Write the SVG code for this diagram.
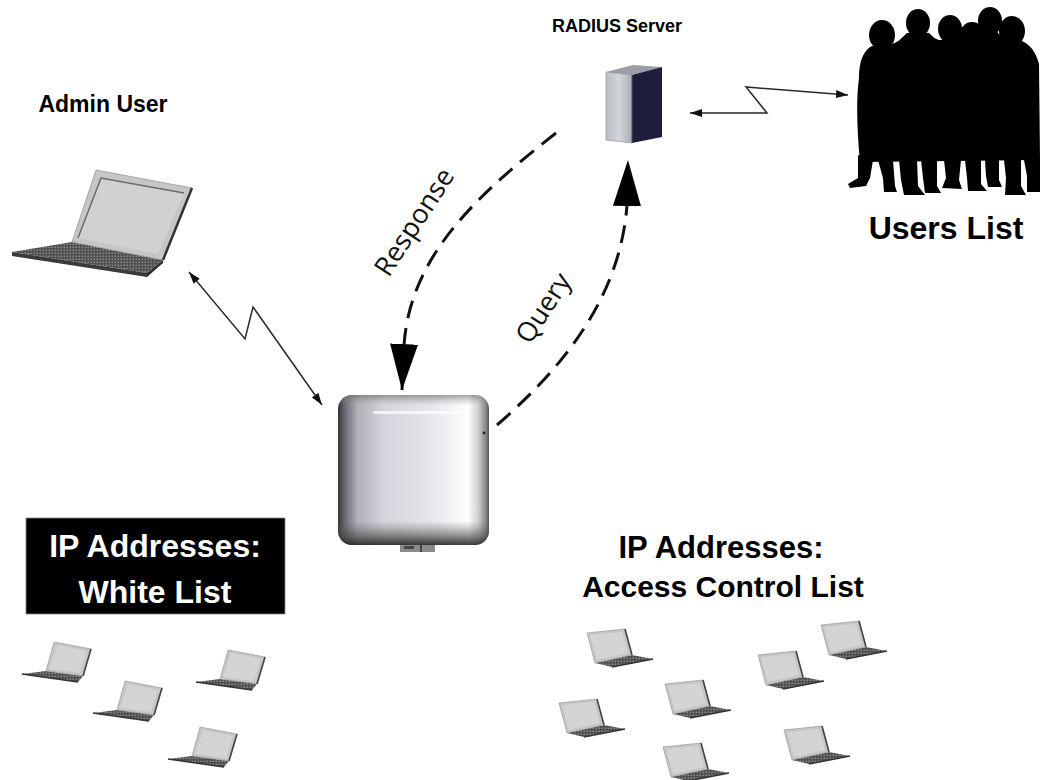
<svg xmlns="http://www.w3.org/2000/svg" width="1041" height="780" viewBox="0 0 1041 780">
  <style>
    .lbl { font-family: "Liberation Sans", Arial, sans-serif; font-weight: bold; fill: #000; }
    .flow { font-family: "Open Sans", "Liberation Sans", sans-serif; font-size: 27px; fill: #111; }
    .thin { fill: none; stroke: #2a2a2a; stroke-width: 1.5; }
    .dash { fill: none; stroke: #111; stroke-width: 3; stroke-dasharray: 18 10; }
    .scr { fill: #c6c6c6; stroke: #8c8c8c; stroke-width: 0.6; }
    .scrIn { fill: #d4d4d4; }
    .edge { stroke: #444; stroke-width: 1.6; fill: none; }
  </style>
  <defs>
    <pattern id="keys" width="3" height="3" patternUnits="userSpaceOnUse">
      <rect width="3" height="3" fill="#4c4c4c"/>
      <rect x="0.5" y="0.5" width="1.6" height="1.6" fill="#8a8a8a"/>
    </pattern>
    <marker id="tip" viewBox="0 0 12 8" refX="12" refY="4" markerWidth="12" markerHeight="9" markerUnits="userSpaceOnUse" orient="auto-start-reverse">
      <path d="M0,0 L12,4 L0,8 z" fill="#111"/>
    </marker>
    <marker id="bigTip" viewBox="0 0 46 28" refX="46" refY="14" markerWidth="46" markerHeight="28" markerUnits="userSpaceOnUse" orient="auto">
      <path d="M0,0 L46,14 L0,28 z" fill="#000"/>
    </marker>
    <linearGradient id="apH" x1="0" y1="0" x2="1" y2="0">
      <stop offset="0" stop-color="#34343a"/>
      <stop offset="0.05" stop-color="#6e6e76"/>
      <stop offset="0.13" stop-color="#b0b0b8"/>
      <stop offset="0.3" stop-color="#d4d4dc"/>
      <stop offset="0.6" stop-color="#e4e4ea"/>
      <stop offset="0.78" stop-color="#f6f6f9"/>
      <stop offset="0.86" stop-color="#ffffff"/>
      <stop offset="0.93" stop-color="#cfcfd3"/>
      <stop offset="0.98" stop-color="#85858a"/>
      <stop offset="1" stop-color="#505055"/>
    </linearGradient>
    <linearGradient id="apV" x1="0" y1="0" x2="0" y2="1">
      <stop offset="0" stop-color="#666" stop-opacity="0.6"/>
      <stop offset="0.07" stop-color="#999" stop-opacity="0"/>
      <stop offset="0.84" stop-color="#666" stop-opacity="0"/>
      <stop offset="0.94" stop-color="#444" stop-opacity="0.6"/>
      <stop offset="1" stop-color="#222" stop-opacity="0.9"/>
    </linearGradient>
    <linearGradient id="srvFront" x1="0" y1="0" x2="1" y2="0">
      <stop offset="0" stop-color="#b9bec4"/>
      <stop offset="0.5" stop-color="#d2d6da"/>
      <stop offset="1" stop-color="#a9aeb4"/>
    </linearGradient>
    <!-- small laptop, screen on the right of the keyboard -->
    <symbol id="lapL" overflow="visible">
      <polygon points="-8,29 29,34 24,40 -32,32" fill="url(#keys)"/>
      <line x1="-32" y1="32" x2="24" y2="40" stroke="#333" stroke-width="1.5"/>
      <polygon class="scr" points="0,0 37,7 29,34 -8,29"/>
      <polygon class="scrIn" points="3,3 33,9 26,31 -5,27"/>
      <line class="edge" x1="37" y1="7" x2="29" y2="34"/>
    </symbol>
    <!-- small laptop, screen on the left of the keyboard -->
    <symbol id="lapR" overflow="visible">
      <polygon points="8,30 45,22 66,26 25,34" fill="url(#keys)"/>
      <line x1="25" y1="34" x2="66" y2="26" stroke="#333" stroke-width="1.5"/>
      <polygon class="scr" points="0,0 38,-4 45,22 8,30"/>
      <polygon class="scrIn" points="3,2 35,-1 41,20 10,27"/>
      <line class="edge" x1="38" y1="-4" x2="45" y2="22"/>
    </symbol>
  </defs>

  <rect width="1041" height="780" fill="#fff"/>

  <!-- connectors -->
  <g id="connectors">
    <polyline class="thin" points="189,272 245,339 253,307 322,405" marker-start="url(#tip)" marker-end="url(#tip)"/>
    <polyline class="thin" points="690,113 767,113 746,87 848,95" marker-start="url(#tip)" marker-end="url(#tip)"/>
    <path id="response" class="dash" d="M556,133 C470,200 410,260 404,345 L402,390" marker-end="url(#bigTip)"/>
    <path id="query" class="dash" d="M497,425 C560,370 620,300 627,205 L628,160" marker-end="url(#bigTip)"/>
    <text class="flow" text-anchor="middle" transform="translate(422,227) rotate(-57)">Response</text>
    <text class="flow" text-anchor="middle" transform="translate(551,313) rotate(-57)">Query</text>
  </g>

  <!-- RADIUS server -->
  <g id="radius-server">
    <polygon points="606,72 633,65 662,67 632,75" fill="#9a9ea6"/>
    <polygon points="606,72 632,75 632,143 606,140" fill="url(#srvFront)" stroke="#8a8f96" stroke-width="0.6"/>
    <polygon points="632,75 662,67 662,137 632,143" fill="#1d1d3c"/>
    <line x1="632" y1="75" x2="632" y2="143" stroke="#55565e" stroke-width="1"/>
    <text class="lbl" x="617" y="32" font-size="18" text-anchor="middle">RADIUS Server</text>
  </g>

  <!-- users silhouette -->
  <g id="users-list" fill="#000">
    <ellipse cx="882" cy="35" rx="13" ry="15"/>
    <ellipse cx="918" cy="23" rx="12" ry="14"/>
    <ellipse cx="950" cy="29" rx="12" ry="14"/>
    <ellipse cx="972" cy="37" rx="13" ry="15"/>
    <ellipse cx="990" cy="21" rx="12" ry="14"/>
    <ellipse cx="1012" cy="31" rx="13" ry="15"/>
    <path d="M859,78 C859,60 864,50 872,46 L892,44 C898,42 902,38 907,33 L929,33 C934,38 937,40 940,40 L960,38 C963,42 965,44 968,44 L980,42 C982,36 984,32 986,30 L996,30 C1000,36 1004,40 1008,40 L1020,40 C1030,44 1036,52 1039,64 L1040,160 L860,162 C857,130 856,100 859,78 z"/>
    <path d="M858,155 L873,160 L870,178 L866,186 L850,188 L848,184 L858,178 z"/>
    <path d="M878,160 L893,160 L895,186 L897,192 L884,192 L883,178 z"/>
    <path d="M899,160 L917,160 L918,186 L925,195 L904,195 L901,180 z"/>
    <path d="M921,160 L937,160 L937,186 L941,193 L925,193 L923,178 z"/>
    <path d="M944,160 L961,160 L959,180 L962,189 L942,188 L946,178 z"/>
    <path d="M965,160 L981,160 L981,184 L987,191 L968,191 L967,178 z"/>
    <path d="M985,160 L999,160 L999,180 L1002,187 L988,187 L986,176 z"/>
    <path d="M1004,160 L1021,160 L1021,186 L1026,195 L1005,195 L1006,178 z"/>
    <path d="M1024,160 L1040,160 L1040,192 L1027,192 L1027,176 z"/>
    <text class="lbl" x="946" y="239" font-size="32" text-anchor="middle">Users List</text>
  </g>

  <!-- admin laptop -->
  <g id="admin-user">
    <polygon points="72,242 163,260 147,273 12,252" fill="url(#keys)"/>
    <polygon points="12,252 147,273 147,277 12,256" fill="#3a3a3a"/>
    <polygon points="147,273 163,260 163,263 147,277" fill="#2e2e2e"/>
    <polygon points="96,170 192,188 163,260 72,242" fill="#c6c6c6" stroke="#999" stroke-width="0.8"/>
    <polygon points="101,178 184,193 158,254 78,238" fill="#d1d1d1"/>
    <polyline points="78,238 101,178 184,193" fill="none" stroke="#6a6a6a" stroke-width="1.5"/>
    <line x1="192" y1="188" x2="163" y2="260" stroke="#333" stroke-width="2.5"/>
    <text class="lbl" x="103" y="112" font-size="23" text-anchor="middle">Admin User</text>
  </g>

  <!-- access point -->
  <g id="access-point">
    <rect x="400" y="543" width="35" height="9" fill="#8a8a8a"/>
    <rect x="404" y="546" width="10" height="3" fill="#444"/>
    <rect x="420" y="545" width="2" height="7" fill="#444"/>
    <rect x="338" y="395" width="151" height="150" rx="14" fill="url(#apH)"/>
    <rect x="338" y="395" width="151" height="150" rx="14" fill="url(#apV)"/>
    <rect x="373" y="411" width="88" height="3" rx="1.5" fill="#fff" opacity="0.7"/>
    <circle cx="484" cy="433" r="1.4" fill="#222"/>
  </g>

  <!-- white list -->
  <g id="white-list">
    <rect x="26" y="518" width="259" height="96" fill="#000" stroke="#888" stroke-width="0.8"/>
    <text class="lbl" x="155" y="557" font-size="32" text-anchor="middle" style="fill:#fff">IP Addresses:</text>
    <text class="lbl" x="155" y="603" font-size="32" text-anchor="middle" style="fill:#fff">White List</text>
    <use href="#lapL" x="54" y="642"/>
    <use href="#lapL" x="125" y="681"/>
    <use href="#lapL" x="228" y="650"/>
    <use href="#lapL" x="200" y="727"/>
  </g>

  <!-- access control list -->
  <g id="access-control-list">
    <text class="lbl" x="721" y="558" font-size="31" text-anchor="middle">IP Addresses:</text>
    <text class="lbl" x="723" y="597" font-size="30" text-anchor="middle">Access Control List</text>
    <use href="#lapR" x="587" y="633"/>
    <use href="#lapR" x="821" y="625"/>
    <use href="#lapR" x="758" y="655"/>
    <use href="#lapR" x="665" y="684"/>
    <use href="#lapR" x="559" y="703"/>
    <use href="#lapR" x="784" y="730"/>
    <use href="#lapR" x="663" y="747"/>
  </g>
</svg>
